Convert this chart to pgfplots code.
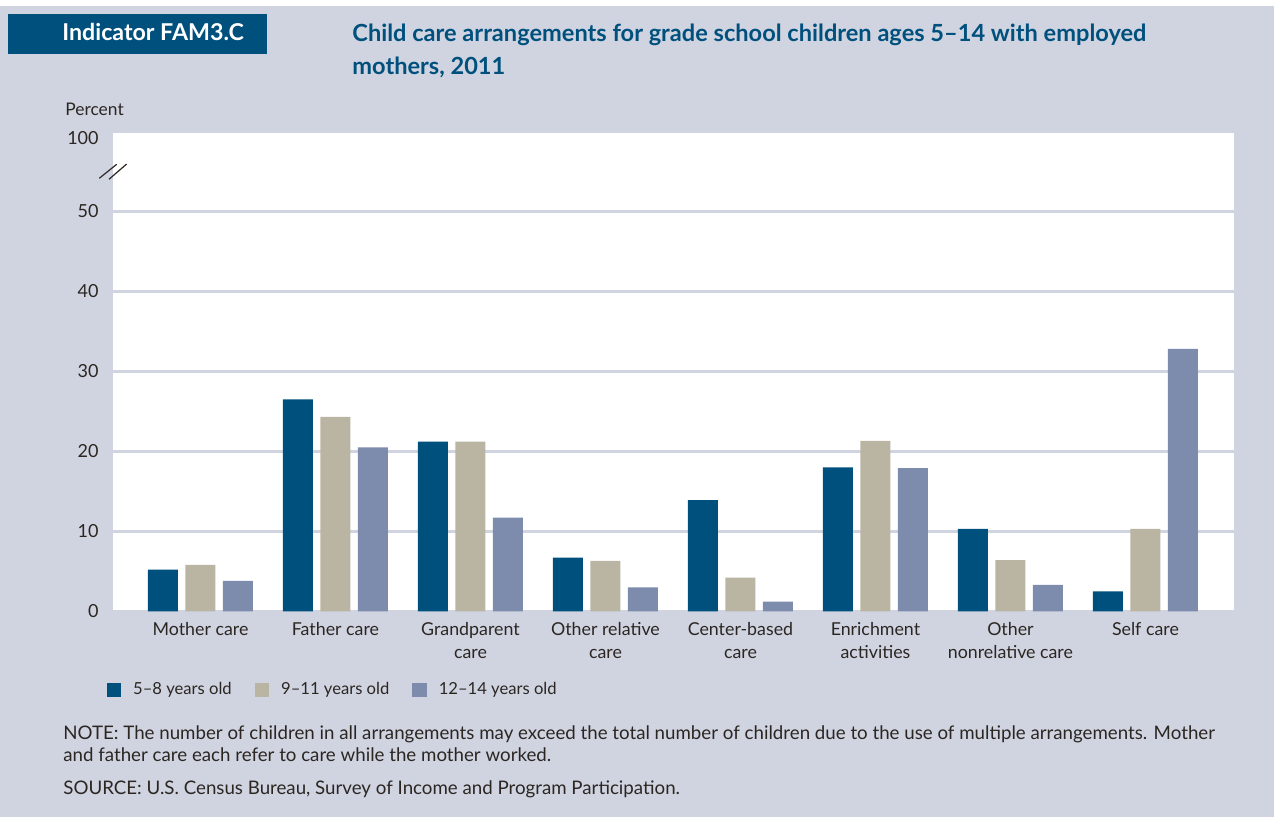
\documentclass[border=0pt]{standalone}
\usepackage{pgfplots}
\usepackage{pgfplotstable}
\pgfplotsset{compat=1.18}
\usepackage{fontspec}
\setmainfont{Lato}
\definecolor{bg}{HTML}{D0D4E1}
\definecolor{navy}{HTML}{00507D}
\definecolor{tanc}{HTML}{BAB4A2}
\definecolor{slate}{HTML}{7D8BAD}
\definecolor{txt}{HTML}{2B2622}

\pgfplotstableread{
x a b c
0 5.2 5.8 3.8
1 26.5 24.3 20.5
2 21.2 21.2 11.7
3 6.7 6.3 3.0
4 13.9 4.2 1.2
5 18.0 21.3 17.9
6 10.3 6.4 3.3
7 2.5 10.3 32.8
}\datatable

\begin{document}
\begin{tikzpicture}
\path (0,0) rectangle (637pt,408.5pt);
\fill[bg] (0,0) rectangle (637pt,405.5pt);
\fill[navy] (4pt,381.5pt) rectangle (133.5pt,401.5pt);
\node[anchor=base west, inner sep=0pt, text=white, font=\fontsize{11.6}{13}\selectfont\bfseries] at (31pt,388pt) {Indicator FAM3.C};
\node[anchor=base west, inner sep=0pt, text=navy, font=\fontsize{11.8}{13}\selectfont\bfseries] at (176pt,387.5pt) {Child care arrangements for grade school children ages 5–14 with employed};
\node[anchor=base west, inner sep=0pt, text=navy, font=\fontsize{11.8}{13}\selectfont\bfseries] at (176pt,371pt) {mothers, 2011};
\node[anchor=base west, inner sep=0pt, text=txt, font=\fontsize{8.7}{10}\selectfont] at (32.5pt,350.5pt) {Percent};

\begin{axis}[
  at={(56.5pt,102.85pt)}, anchor=south west,
  width=560.5pt, height=239.15pt, scale only axis,
  axis background/.style={fill=white},
  xmin=-0.648, xmax=7.656, ymin=0, ymax=59.8,
  ybar, bar width=0.2222,
  axis line style={draw=none}, tick style={draw=none}, major tick length=0pt,
  ymajorgrids, grid style={bg, line width=1.5pt},
  ytick={0,10,20,30,40,50},
  yticklabels={0,10,20,30,40,50},
  extra y ticks={59.2}, extra y tick labels={100},
  extra y tick style={grid=none},
  /pgf/number format/assume math mode=true,
  yticklabel style={inner sep=0pt, xshift=-7pt, text=txt, font=\fontsize{9}{10}\selectfont},
  xtick={0,...,7},
  xticklabels={Mother care, Father care, Grandparent\\care, Other relative\\care, Center-based\\care, Enrichment\\activities, Other\\nonrelative care, Self care},
  xticklabel style={align=center, anchor=north, inner sep=0pt, yshift=-5.5pt, text=txt, font=\fontsize{8.9}{11.5}\selectfont},
  legend columns=3,
  legend style={at={(axis description cs:-0.006,-0.164)}, anchor=west, draw=none, fill=none, inner sep=0pt, text=txt, font=\fontsize{8.3}{10}\selectfont,
    /tikz/every odd column/.append style={column sep=4pt},
    /tikz/every even column/.append style={column sep=9.5pt}},
  legend image code/.code={\fill[#1] (0pt,-3.6pt) rectangle (7.25pt,3.6pt);},
]
\addplot[fill=navy, draw=none, bar shift=-0.2778] table[x=x, y=a] {\datatable};
\addplot[fill=tanc, draw=none, bar shift=0] table[x=x, y=b] {\datatable};
\addplot[fill=slate, draw=none, bar shift=0.2778] table[x=x, y=c] {\datatable};
\legend{5–8 years old, 9–11 years old, 12–14 years old}
\end{axis}

\draw[txt, line width=0.6pt] (49.65pt,319.35pt) -- (58.35pt,326.35pt);
\draw[txt, line width=0.6pt] (54.5pt,318.85pt) -- (63.35pt,326.5pt);

\node[anchor=base west, inner sep=0pt, text=txt, font=\fontsize{9.35}{11}\selectfont] at (31.5pt,38.5pt) {NOTE: The number of children in all arrangements may exceed the total number of children due to the use of multiple arrangements. Mother};
\node[anchor=base west, inner sep=0pt, text=txt, font=\fontsize{9.35}{11}\selectfont] at (31.5pt,27.5pt) {and father care each refer to care while the mother worked.};
\node[anchor=base west, inner sep=0pt, text=txt, font=\fontsize{9.35}{11}\selectfont] at (31.5pt,11pt) {SOURCE: U.S. Census Bureau, Survey of Income and Program Participation.};
\end{tikzpicture}
\end{document}
